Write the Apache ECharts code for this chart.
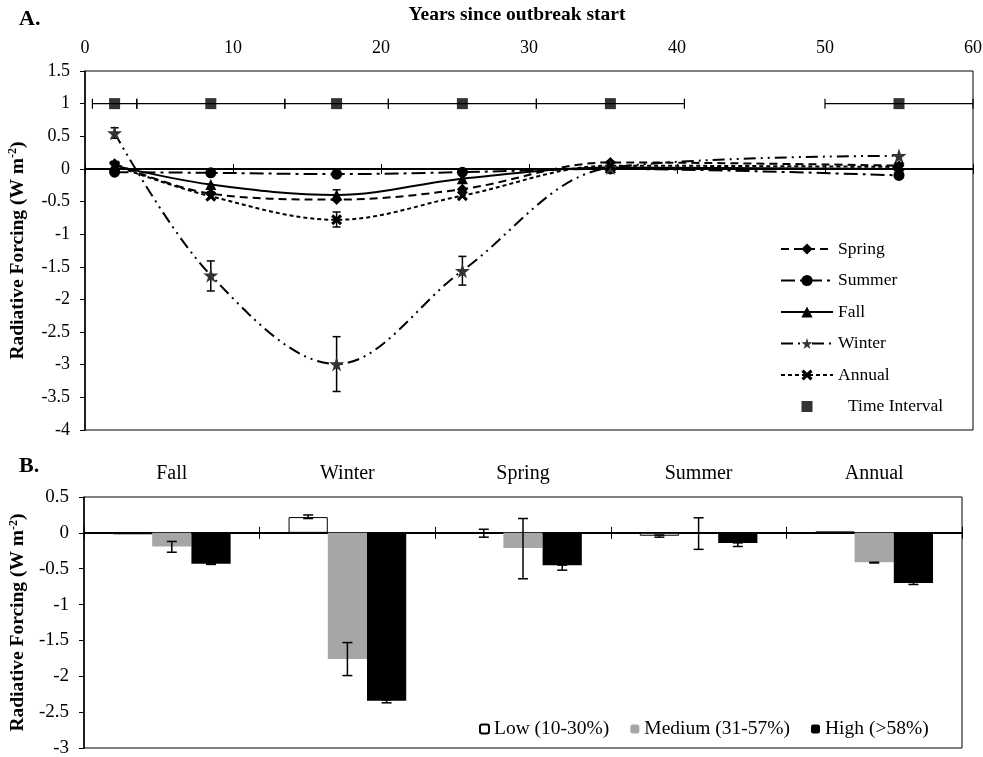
<!DOCTYPE html>
<html>
<head>
<meta charset="utf-8">
<script src="https://cdn.jsdelivr.net/npm/echarts@6.0.0/dist/echarts.min.js"></script>
<style>
  html, body { margin: 0; padding: 0; background: #fff; }
  #chart { width: 983px; height: 757px; }
</style>
</head>
<body>
<div id="chart"></div>
<script>
// panel A - forcing by season over time
const years = [2, 8.5, 17, 25.5, 35.5, 55];
const springRF = [0.08, -0.38, -0.47, -0.31, 0.1, 0.05];
const summerRF = [-0.05, -0.06, -0.08, -0.05, 0.0, -0.1];
const fallRF = [0.05, -0.24, -0.4, -0.15, 0.02, 0.0];
const winterRF = [0.55, -1.63, -2.99, -1.56, 0.02, 0.2];
const annualRF = [0.05, -0.42, -0.78, -0.41, 0.05, 0.03];
// vertical error bars: [year, low, high]
const winterErr = [[2, 0.47, 0.63], [8.5, -1.87, -1.41], [17, -3.41, -2.57], [25.5, -1.78, -1.34]];
const annualErr = [[17, -0.89, -0.66]];
const fallErr = [[17, -0.48, -0.32]];
// time intervals
const intervalY = [1, 1, 1, 1, 1, 1];
const intervalStart = [0.5, 3.5, 13.5, 20.5, 30.5, 50];
const intervalEnd = [3.5, 13.5, 20.5, 30.5, 40.5, 60];

// panel B - forcing by severity class
const seasons = ['Fall', 'Winter', 'Spring', 'Summer', 'Annual'];
const lowRF = [-0.02, 0.22, -0.01, -0.04, 0.02];
const mediumRF = [-0.19, -1.76, -0.21, 0, -0.41];
const highRF = [-0.43, -2.34, -0.45, -0.14, -0.7];
const lowErr = [null, [0.2, 0.25], [-0.06, 0.05], [-0.06, -0.03], null];
const mediumErr = [[-0.27, -0.12], [-1.99, -1.53], [-0.64, 0.2], [-0.23, 0.21], [-0.42, -0.41]];
const highErr = [[-0.44, -0.42], [-2.37, -2.33], [-0.52, -0.45], [-0.19, -0.14], [-0.72, -0.69]];

const FONT = 'Liberation Serif';
const starPath = 'path://M50,0 L61,35 L98,35 L68,57 L79,91 L50,70 L21,91 L32,57 L2,35 L39,35 Z';
const crossPath = 'path://M0,20 L20,0 L50,30 L80,0 L100,20 L70,50 L100,80 L80,100 L50,70 L20,100 L0,80 L30,50 Z';
const squareIcon = 'path://M0,0 M14,14 M1.5,1.5 h11 v11 h-11 Z';

function pair(xs, ys) { return xs.map((x, i) => [x, ys[i]]); }

function vErr(params, api) {
  const x = api.value(0);
  const a = api.coord([x, api.value(1)]);
  const b = api.coord([x, api.value(2)]);
  const s = { stroke: '#000', lineWidth: 1.5 };
  return { type: 'group', children: [
    { type: 'line', shape: { x1: a[0], y1: a[1], x2: b[0], y2: b[1] }, style: s },
    { type: 'line', shape: { x1: a[0] - 4, y1: a[1], x2: a[0] + 4, y2: a[1] }, style: s },
    { type: 'line', shape: { x1: b[0] - 4, y1: b[1], x2: b[0] + 4, y2: b[1] }, style: s }
  ] };
}

function hErr(params, api) {
  const y = api.value(2);
  const a = api.coord([api.value(0), y]);
  const b = api.coord([api.value(1), y]);
  const s = { stroke: '#000', lineWidth: 1.2 };
  return { type: 'group', children: [
    { type: 'line', shape: { x1: a[0], y1: a[1], x2: b[0], y2: b[1] }, style: s },
    { type: 'line', shape: { x1: a[0], y1: a[1] - 5, x2: a[0], y2: a[1] + 5 }, style: s },
    { type: 'line', shape: { x1: b[0], y1: b[1] - 5, x2: b[0], y2: b[1] + 5 }, style: s }
  ] };
}

function barErr(params, api) {
  const cat = api.value(0), k = api.value(3);
  const band = api.size([1, 0])[0];
  const bw = band * 0.67 / 3;
  const a = api.coord([cat, api.value(1)]);
  const b = api.coord([cat, api.value(2)]);
  const x = a[0] + (k - 1) * bw;
  const s = { stroke: '#000', lineWidth: 1.5 };
  return { type: 'group', children: [
    { type: 'line', shape: { x1: x, y1: a[1], x2: x, y2: b[1] }, style: s },
    { type: 'line', shape: { x1: x - 5, y1: a[1], x2: x + 5, y2: a[1] }, style: s },
    { type: 'line', shape: { x1: x - 5, y1: b[1], x2: x + 5, y2: b[1] }, style: s }
  ] };
}

let barErrData = [];
[lowErr, mediumErr, highErr].forEach((arr, k) => {
  arr.forEach((e, i) => { if (e) barErrData.push([i, e[0], e[1], k]); });
});

function lineSeries(name, data, symbol, size, dash, color) {
  return {
    name: name, type: 'line', xAxisIndex: 0, yAxisIndex: 0,
    data: pair(years, data), smooth: 0.35,
    symbol: symbol, symbolSize: size,
    lineStyle: { color: '#000', width: 2, type: dash },
    itemStyle: { color: color || '#000' },
    z: 3
  };
}

let yName = 'Radiative Forcing (W m{sup|-2})';
let yNameStyle = {
  fontFamily: FONT, fontSize: 19.5, fontWeight: 'bold', color: '#000',
  rich: { sup: { fontFamily: FONT, fontSize: 12, fontWeight: 'bold', verticalAlign: 'top', padding: [0, 0, 9, 0] } }
};

let myChart = echarts.init(document.getElementById('chart'), null, { renderer: 'canvas' });
let option = {
  animation: false,
  backgroundColor: '#fff',
  textStyle: { fontFamily: FONT },
  graphic: [
    { type: 'text', left: 19, top: 8, style: { text: 'A.', font: 'bold 22px ' + FONT, fill: '#000' } },
    { type: 'text', left: 19, top: 455, style: { text: 'B.', font: 'bold 22px ' + FONT, fill: '#000' } }
  ],
  grid: [
    { left: 85, top: 71, right: 10, height: 359, show: true, borderColor: '#000', borderWidth: 1, outerBoundsMode: 'none' },
    { left: 84, top: 497, right: 21, bottom: 9, show: true, borderColor: '#000', borderWidth: 1, outerBoundsMode: 'none' }
  ],
  legend: [
    {
      data: ['Spring', 'Summer', 'Fall', 'Winter', 'Annual', { name: 'Time Interval', icon: squareIcon }],
      orient: 'vertical', left: 780, top: 240, padding: 0,
      itemWidth: 52, itemHeight: 14, itemGap: 13.5,
      formatter: function (name) { return name === 'Time Interval' ? '{pad|}' + name : name; },
      textStyle: { fontFamily: FONT, fontSize: 17.5, color: '#000', rich: { pad: { width: 10 } } }
    },
    {
      data: ['Low (10-30%)', 'Medium (31-57%)', 'High (>58%)'],
      orient: 'horizontal', left: 479, top: 719, padding: 0,
      itemWidth: 9, itemHeight: 9, itemGap: 21,
      textStyle: { fontFamily: FONT, fontSize: 19.5, color: '#000' }
    }
  ],
  xAxis: [
    { // A: labels on top
      type: 'value', gridIndex: 0, position: 'top', min: 0, max: 60, interval: 10,
      name: 'Years since outbreak start', nameLocation: 'middle', nameGap: 46,
      nameTextStyle: { fontFamily: FONT, fontSize: 19.5, fontWeight: 'bold', color: '#000', padding: [0, 24, 0, 0] },
      axisLine: { show: false, onZero: false }, axisTick: { show: false }, splitLine: { show: false },
      axisLabel: { margin: 14, fontFamily: FONT, fontSize: 18, color: '#000' }
    },
    { // A: zero line, ticks down
      type: 'value', gridIndex: 0, position: 'bottom', min: 0, max: 60, interval: 10,
      axisLine: { show: true, onZero: true, onZeroAxisIndex: 0, lineStyle: { color: '#000', width: 2 } },
      axisTick: { show: true, length: 5, lineStyle: { color: '#000' } },
      axisLabel: { show: false }, splitLine: { show: false }
    },
    { // A: zero line, ticks up
      type: 'value', gridIndex: 0, position: 'bottom', min: 0, max: 60, interval: 10,
      axisLine: { show: false, onZero: true, onZeroAxisIndex: 0 },
      axisTick: { show: true, inside: true, length: 5, lineStyle: { color: '#000' } },
      axisLabel: { show: false }, splitLine: { show: false }
    },
    { // B: labels on top
      type: 'category', gridIndex: 1, position: 'top', data: seasons,
      axisLine: { show: false, onZero: false }, axisTick: { show: false },
      axisLabel: { margin: 13, fontFamily: FONT, fontSize: 20, color: '#000' }
    },
    { // B: zero line, ticks down
      type: 'category', gridIndex: 1, position: 'bottom', data: seasons,
      axisLine: { show: true, onZero: true, onZeroAxisIndex: 1, lineStyle: { color: '#000', width: 2 } },
      axisTick: { show: true, length: 6, lineStyle: { color: '#000' } },
      axisLabel: { show: false }
    },
    { // B: zero line, ticks up
      type: 'category', gridIndex: 1, position: 'bottom', data: seasons,
      axisLine: { show: false, onZero: true, onZeroAxisIndex: 1 },
      axisTick: { show: true, inside: true, length: 6, lineStyle: { color: '#000' } },
      axisLabel: { show: false }
    }
  ],
  yAxis: [
    {
      type: 'value', gridIndex: 0, min: -4, max: 1.5, interval: 0.5,
      name: yName, nameLocation: 'middle', nameGap: 57, nameTextStyle: yNameStyle,
      axisLine: { show: true, lineStyle: { color: '#000', width: 1.5 } },
      axisTick: { show: true, length: 5, lineStyle: { color: '#000' } },
      splitLine: { show: false },
      axisLabel: { margin: 15, fontFamily: FONT, fontSize: 18, color: '#000' }
    },
    {
      type: 'value', gridIndex: 1, min: -3, max: 0.5, interval: 0.5,
      name: yName, nameLocation: 'middle', nameGap: 55, nameTextStyle: yNameStyle,
      axisLine: { show: true, lineStyle: { color: '#000', width: 1.5 } },
      axisTick: { show: true, length: 5, lineStyle: { color: '#000' } },
      splitLine: { show: false },
      axisLabel: { margin: 15, fontFamily: FONT, fontSize: 19, color: '#000' }
    }
  ],
  series: [
    lineSeries('Spring', springRF, 'diamond', 11, [8, 5]),
    lineSeries('Summer', summerRF, 'circle', 11, [14, 5, 3, 5]),
    lineSeries('Fall', fallRF, 'triangle', 11, 'solid'),
    lineSeries('Winter', winterRF, starPath, 15, [12, 5, 2, 5, 2, 5], '#333'),
    lineSeries('Annual', annualRF, crossPath, 11, [4, 3]),
    {
      name: 'Time Interval', type: 'scatter', xAxisIndex: 0, yAxisIndex: 0,
      data: pair(years, intervalY), symbol: 'rect', symbolSize: 11,
      itemStyle: { color: '#000' }, z: 4
    },
    {
      type: 'custom', xAxisIndex: 0, yAxisIndex: 0, renderItem: hErr, z: 2,
      data: intervalStart.map((s, i) => [s, intervalEnd[i], intervalY[i]])
    },
    {
      type: 'custom', xAxisIndex: 0, yAxisIndex: 0, renderItem: vErr, z: 2,
      data: winterErr.concat(annualErr, fallErr)
    },
    {
      name: 'Low (10-30%)', type: 'bar', xAxisIndex: 4, yAxisIndex: 1, data: lowRF,
      barGap: '0%', barCategoryGap: '33%',
      itemStyle: { color: '#fff', borderColor: '#000', borderWidth: 1 }
    },
    {
      name: 'Medium (31-57%)', type: 'bar', xAxisIndex: 4, yAxisIndex: 1, data: mediumRF,
      barGap: '0%', barCategoryGap: '33%',
      itemStyle: { color: '#a6a6a6' }
    },
    {
      name: 'High (>58%)', type: 'bar', xAxisIndex: 4, yAxisIndex: 1, data: highRF,
      barGap: '0%', barCategoryGap: '33%',
      itemStyle: { color: '#000' }
    },
    {
      type: 'custom', xAxisIndex: 4, yAxisIndex: 1, renderItem: barErr, z: 5,
      data: barErrData
    }
  ]
};
myChart.setOption(option);
</script>
</body>
</html>
